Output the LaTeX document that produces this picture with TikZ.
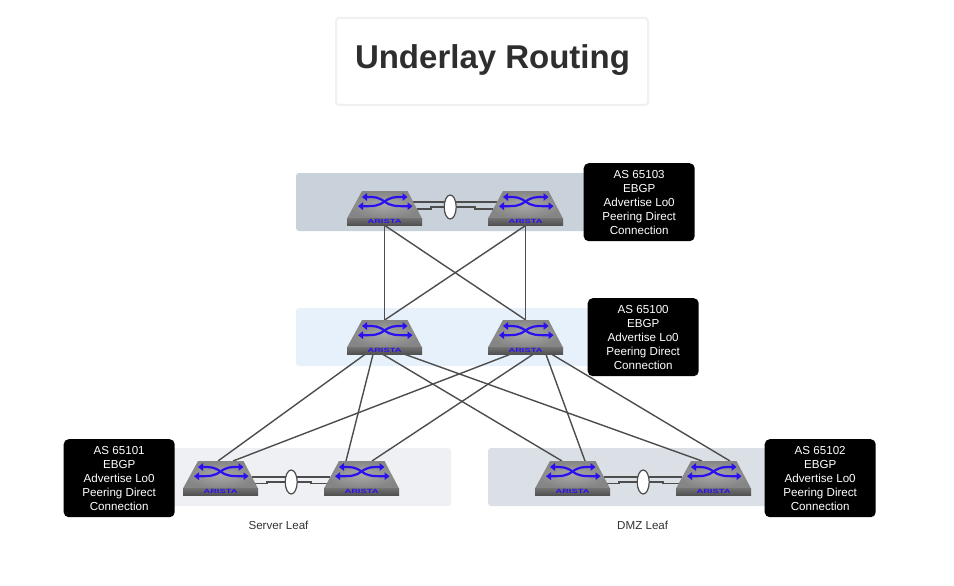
\documentclass[tikz,border=0pt]{standalone}
\usepackage{fontspec}
\usepackage{graphicx}
\setmainfont{Liberation Sans}
\usetikzlibrary{calc,shapes.geometric,arrows.meta}
\definecolor{linkc}{HTML}{4D4D4D}
\definecolor{swblue}{HTML}{2A10F0}
\tikzset{
  swnode/.style={rectangle,inner sep=0pt,minimum width=75pt,minimum height=34pt,anchor=north west},
  bandfill/.style={rounded corners=3pt},
  asbox/.style={rectangle,fill=black,text=white,rounded corners=5pt,inner sep=0pt,minimum width=111pt,minimum height=78pt,align=center,font=\fontsize{11.6}{14}\selectfont,anchor=north west},
  link/.style={draw=linkc,line width=1.4pt},
  pairlink/.style={draw=linkc,line width=1.3pt},
  lag/.style={ellipse,draw=linkc,fill=white,line width=1.2pt,minimum width=12pt,minimum height=24pt,inner sep=0pt},
  captext/.style={font=\fontsize{11.6}{14}\selectfont,text=black!80,inner sep=0pt},
  swarrow/.style={draw=swblue,line width=2.2pt,-{Triangle[length=5pt,width=7.5pt]}}
}
% graphics of a switch, drawn over the named node
\newcommand{\swgfx}[1]{%
  \begin{scope}[shift={(#1.north west)}]
    \shade[inner color=black!34,outer color=black!48] (15,0) -- (60.5,0) -- (75,27.5) -- (0,27.5) -- cycle;
    \shade[top color=black!56,bottom color=black!68] (0,27.5) rectangle (75,34);
    \draw[swarrow] (37.5,10.5) .. controls (31,15.2) and (27,15.2) .. (11,15.2);
    \draw[swarrow] (37.5,10.5) .. controls (44,15.2) and (48,15.2) .. (65.5,15.2);
    \draw[swarrow] (37.5,10.5) .. controls (31,6) and (28,6) .. (15,6);
    \draw[swarrow] (37.5,10.5) .. controls (44,6) and (47,6) .. (60.5,6);
    \node[text=swblue,inner sep=0pt,font=\bfseries\fontsize{6}{7}\selectfont] (#1-logo) at (37.5,30.5) {\scalebox{1.55}[1]{ARISTA}};
  \end{scope}}
% pair link: #1 #2 nodes, #3 upper dy, #4 lower dy, #5 middle dy, #6 ellipse offset, #7 upper start dx
\newcommand{\swpair}[7]{%
  \draw[pairlink] ($(#1.north west)+(#7,#3)$) -- ($(#2.north west)+(15-15*#3/27.5,#3)$);
  \draw[pairlink] ($(#1.north west)+(60.5+14.5*#4/27.5,#4)$) -- ($(#1.north west)+(84,#4)$)
     -- ($(#1.north west)+(84,#5)$) -- ($(#2.north west)+(-13,#5)$)
     -- ($(#2.north west)+(-13,#4)$) -- ($(#2.north west)+(15-15*#4/27.5,#4)$);
  \node[lag] (#1-lag) at ($(#1.north west)!0.5!(#2.north east)+#6$) {};
}
\begin{document}
\begin{tikzpicture}[x=1pt,y=-1pt]
\useasboundingbox (0,0) rectangle (954,586);
\fill[white] (0,0) rectangle (954,586);
% title
\node[rectangle,draw=black!6,line width=2pt,rounded corners=3pt,minimum width=312pt,minimum height=87pt,inner sep=0pt] (titlebox) at (492,61.5) {};
\node[font=\bfseries\fontsize{33}{38}\selectfont,text=black!82,inner sep=0pt] (title) at (492.5,60) {Underlay Routing};
% bands
\fill[bandfill,fill={rgb,255:red,201;green,209;blue,218}] (296,173) rectangle (600,231);
\fill[bandfill,fill={rgb,255:red,230;green,241;blue,252}] (296,308) rectangle (600,366);
\fill[bandfill,fill={rgb,255:red,238;green,240;blue,244}] (160,448) rectangle (451,506);
\fill[bandfill,fill={rgb,255:red,219;green,224;blue,231}] (488,448) rectangle (780,506);
% switch nodes
\node[swnode] (s1) at (347,191) {};
\node[swnode] (s2) at (488,191) {};
\node[swnode] (m1) at (347,320) {};
\node[swnode] (m2) at (488,320) {};
\node[swnode] (l1) at (183,461) {};
\node[swnode] (l2) at (324,461) {};
\node[swnode] (d1) at (535,461) {};
\node[swnode] (d2) at (676,461) {};
% connectors
\draw[link] (s1.south) -- (m1.north);
\draw[link] (s1.south) -- (m2.north);
\draw[link] (s2.south) -- (m1.north);
\draw[link] (s2.south) -- (m2.north);
\draw[link] ($(m1.south west)+(18,0)$) -- ($(l1.north west)+(35,0)$);
\draw[link] ($(m1.south west)+(26,0)$) -- ($(l2.north west)+(22,0)$);
\draw[link] ($(m1.south west)+(36,0)$) -- ($(d1.north west)+(27,0)$);
\draw[link] ($(m1.south west)+(58,0)$) -- ($(d2.north west)+(26,0)$);
\draw[link] ($(m2.south west)+(22,0)$) -- ($(l1.north west)+(50,0)$);
\draw[link] ($(m2.south west)+(45,0)$) -- ($(l2.north west)+(48,0)$);
\draw[link] ($(m2.south west)+(58,0)$) -- ($(d1.north west)+(50,0)$);
\draw[link] ($(m2.south west)+(64,0)$) -- ($(d2.north west)+(54,0)$);
% pair links
\swpair{s1}{s2}{11}{18}{16}{(-5,16)}{66}
\swpair{l1}{l2}{16}{22.5}{21}{(0,21)}{69}
\swpair{d1}{d2}{16}{22.5}{21}{(0,21)}{69}
% switches
\swgfx{s1}\swgfx{s2}\swgfx{m1}\swgfx{m2}\swgfx{l1}\swgfx{l2}\swgfx{d1}\swgfx{d2}
% AS boxes
\node[asbox] (as103) at (583.5,163) {AS 65103\\EBGP\\Advertise Lo0\\Peering Direct\\Connection};
\node[asbox] (as100) at (587.5,298) {AS 65100\\EBGP\\Advertise Lo0\\Peering Direct\\Connection};
\node[asbox] (as101) at (63.5,439) {AS 65101\\EBGP\\Advertise Lo0\\Peering Direct\\Connection};
\node[asbox] (as102) at (764.5,439) {AS 65102\\EBGP\\Advertise Lo0\\Peering Direct\\Connection};
% captions
\node[captext] (serverleaf) at (278.5,525) {Server Leaf};
\node[captext] (dmzleaf) at (642.7,525) {DMZ Leaf};
\end{tikzpicture}
\end{document}
